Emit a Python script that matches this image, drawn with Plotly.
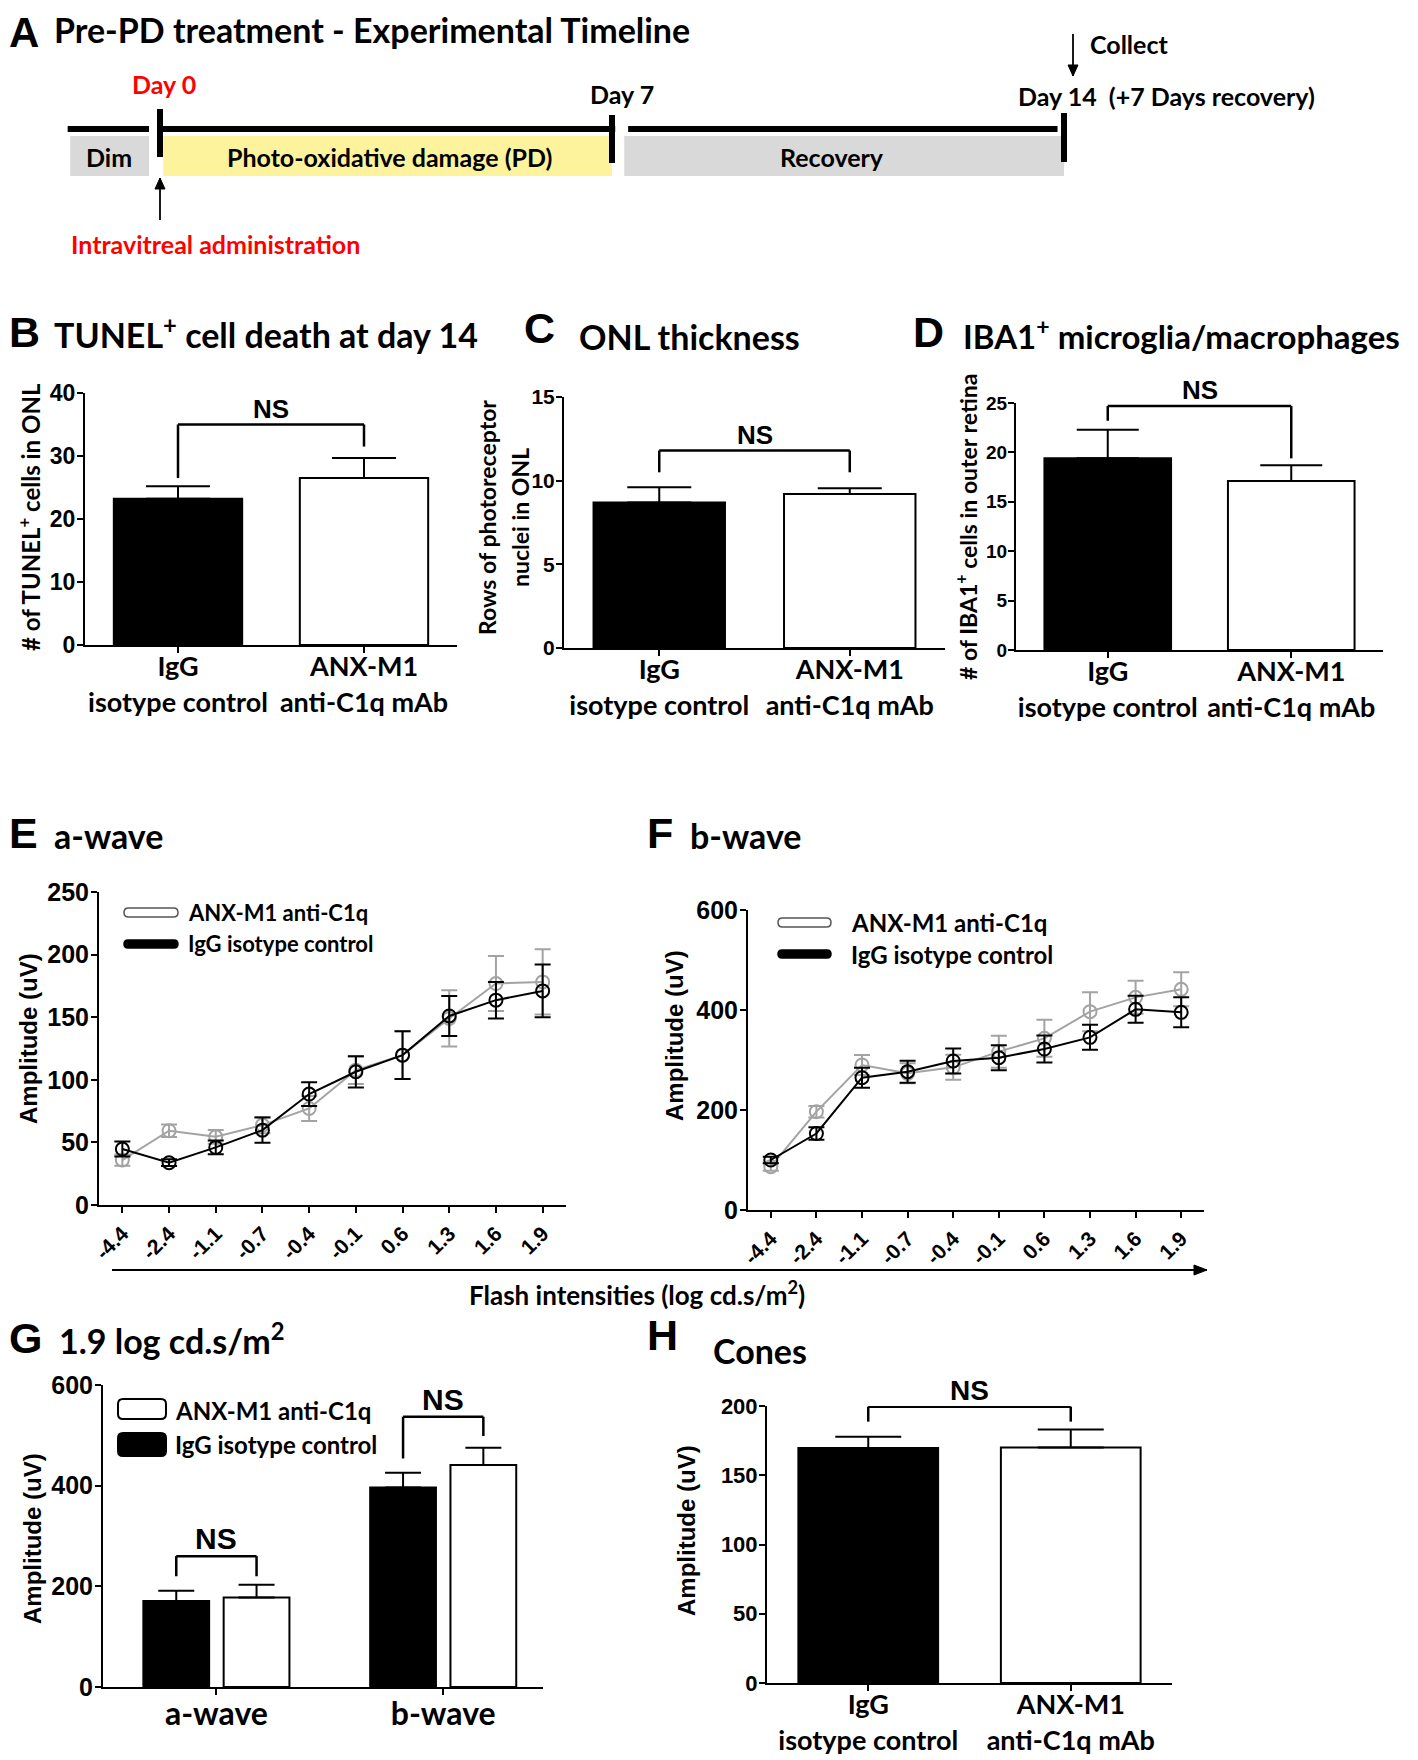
import plotly.graph_objects as go

W, H = 1418, 1760
OFF = 8  # page body margin that shifts the whole figure; positions below are page pixels
ARIAL = "Liberation Sans, Arial, Helvetica, sans-serif"
CAL = "Lato, Carlito, Calibri, sans-serif"
GRAY = "#a3a3a3"
YELLOW = "#fdf39c"
LIGHT = "#d9d9d9"

# ---------------- data ----------------
groups = ["IgG<br>isotype control", "ANX-M1<br>anti-C1q mAb"]

tunel_mean = [23.2, 26.5]
tunel_sem = [2.0, 3.2]
tunel_ns = [26.5, 35.0, 31.5]      # left leg, bracket level, right leg

onl_mean = [8.7, 9.2]
onl_sem = [0.9, 0.35]
onl_ns = [10.5, 11.8, 10.5]

iba1_mean = [19.4, 17.1]
iba1_sem = [2.9, 1.6]
iba1_ns = [23.2, 24.7, 19.4]

intensities = ["-4.4", "-2.4", "-1.1", "-0.7", "-0.4", "-0.1", "0.6", "1.3", "1.6", "1.9"]
awave_igg = [44.7, 33.8, 46.0, 59.8, 88.6, 106.4, 119.7, 151.0, 163.6, 171.0]
awave_igg_sem = [6.0, 2.7, 5.5, 10.0, 9.5, 12.5, 19.0, 16.0, 14.6, 21.0]
awave_anx = [35.9, 59.3, 54.5, 63.8, 77.1, 107.7, 119.7, 149.0, 176.9, 178.2]
awave_anx_sem = [4.5, 5.0, 5.5, 6.5, 10.0, 11.0, 19.0, 22.5, 22.0, 26.0]

bwave_igg = [100.0, 153.0, 264.7, 276.7, 298.0, 304.7, 322.0, 345.3, 401.3, 395.3]
bwave_igg_sem = [6.7, 12.7, 20.0, 22.0, 25.0, 25.0, 27.0, 25.0, 27.0, 30.0]
bwave_anx = [86.7, 196.7, 290.0, 273.3, 285.3, 316.7, 343.3, 396.7, 425.3, 441.3]
bwave_anx_sem = [8.0, 11.5, 20.0, 20.0, 25.0, 32.0, 37.0, 39.0, 33.0, 34.0]

waves = ["a-wave", "b-wave"]
peak_igg = [171.0, 396.5]
peak_igg_sem = [20.0, 29.0]
peak_anx = [178.0, 441.0]
peak_anx_sem = [25.0, 34.5]
peak_ns_a = [220.0, 260.0, 220.0]
peak_ns_b = [454.0, 537.0, 498.6]

cones_mean = [169.6, 170.1]
cones_sem = [8.2, 13.0]
cones_ns = [188.7, 199.5, 188.7]

# timeline (days)
phase_names = ["Dim", "Photo-oxidative damage (PD)", "Recovery"]
phase_start = [-1.39, 0.05, 7.19]
phase_end = [-0.17, 7.0, 14.0]
phase_colors = [LIGHT, YELLOW, LIGHT]
line_start = [-1.43, 0.0, 7.25]
line_end = [-0.17, 7.05, 13.9]
milestones = [0, 7, 14]

# ---------------- helpers ----------------
def X(p):
    return (p - OFF) / W


def Y(p):
    return 1 - (p - OFF) / H


annotations = []
shapes = []


def text(x, y, s, size, family=CAL, color="black", xanchor="center", yanchor="middle", angle=0):
    annotations.append(dict(x=X(x), y=Y(y), xref="paper", yref="paper", text=s, showarrow=False,
                            font=dict(family=family, size=size, color=color, weight="bold"),
                            xanchor=xanchor, yanchor=yanchor, textangle=angle, borderpad=0))


def rrect(x0, y0, x1, y1, r, fill, line_color, lw):
    p = (f"M {X(x0+r):.6f},{Y(y0):.6f} L {X(x1-r):.6f},{Y(y0):.6f} "
         f"Q {X(x1):.6f},{Y(y0):.6f} {X(x1):.6f},{Y(y0+r):.6f} L {X(x1):.6f},{Y(y1-r):.6f} "
         f"Q {X(x1):.6f},{Y(y1):.6f} {X(x1-r):.6f},{Y(y1):.6f} L {X(x0+r):.6f},{Y(y1):.6f} "
         f"Q {X(x0):.6f},{Y(y1):.6f} {X(x0):.6f},{Y(y1-r):.6f} L {X(x0):.6f},{Y(y0+r):.6f} "
         f"Q {X(x0):.6f},{Y(y0):.6f} {X(x0+r):.6f},{Y(y0):.6f} Z")
    shapes.append(dict(type="path", path=p, xref="paper", yref="paper", fillcolor=fill,
                       line=dict(color=line_color, width=lw)))


def arrow(x0, y0, x1, y1, head=11, half=5):
    """straight arrow in page pixels, head at (x1, y1); horizontal or vertical only"""
    shapes.append(dict(type="line", xref="paper", yref="paper", x0=X(x0), y0=Y(y0), x1=X(x1), y1=Y(y1),
                       line=dict(color="black", width=1.8)))
    if x0 == x1:
        d = 1 if y1 > y0 else -1
        pts = [(x1, y1), (x1 - half, y1 - d * head), (x1 + half, y1 - d * head)]
    else:
        d = 1 if x1 > x0 else -1
        pts = [(x1, y1), (x1 - d * head, y1 - half), (x1 - d * head, y1 + half)]
    p = "M " + " L ".join(f"{X(a):.6f},{Y(b):.6f}" for a, b in pts) + " Z"
    shapes.append(dict(type="path", path=p, xref="paper", yref="paper", fillcolor="black",
                       line=dict(color="black", width=1)))


def bracket(n, xl, xr, legs, size, lw=2.5):
    xr_ = "x" if n == 1 else f"x{n}"
    yr_ = "y" if n == 1 else f"y{n}"
    left, level, right = legs
    for (a, b, c, d) in [(xl, left, xl, level), (xl, level, xr, level), (xr, level, xr, right)]:
        shapes.append(dict(type="line", xref=xr_, yref=yr_, x0=a, y0=b, x1=c, y1=d,
                           line=dict(color="black", width=lw)))
    annotations.append(dict(x=(xl + xr) / 2, y=level, xref=xr_, yref=yr_, text="NS", showarrow=False,
                            yanchor="bottom", yshift=0, borderpad=0,
                            font=dict(family=ARIAL, size=size, color="black", weight="bold")))


layout_axes = {}


def axes(n, xdom, ydom, yrange, dtick, ytick_size, xtickfont, xrange=None, tickangle=None, standoff=0):
    xk = "xaxis" if n == 1 else f"xaxis{n}"
    yk = "yaxis" if n == 1 else f"yaxis{n}"
    xa = "x" if n == 1 else f"x{n}"
    ya = "y" if n == 1 else f"y{n}"
    common = dict(showline=True, linecolor="black", linewidth=2, ticks="outside", ticklen=6,
                  tickwidth=2, tickcolor="black", showgrid=False, zeroline=False, fixedrange=True,
                  automargin=False)
    layout_axes[xk] = dict(domain=[X(xdom[0]), X(xdom[1])], anchor=ya, type="category",
                           tickfont=xtickfont, ticklabelstandoff=standoff, **common)
    if xrange is not None:
        layout_axes[xk]["range"] = xrange
    if tickangle is not None:
        layout_axes[xk]["tickangle"] = tickangle
    layout_axes[yk] = dict(domain=[Y(ydom[0]), Y(ydom[1])], anchor=xa, range=yrange, dtick=dtick,
                           tick0=0, tickfont=dict(family=ARIAL, size=ytick_size, color="black", weight="bold"),
                           ticklabelstandoff=-3, **common)
    return xa, ya


fig = go.Figure()

# ---------------- Panel A: timeline ----------------
px0, px_per_day = 160.0, 64.57
layout_axes["xaxis"] = dict(domain=[0, 1],
                            range=[-(px0 - OFF) / px_per_day, (W - (px0 - OFF)) / px_per_day],
                            visible=False, fixedrange=True, anchor="y", automargin=False)
layout_axes["yaxis"] = dict(domain=[Y(260), 1], range=[260, OFF], visible=False, fixedrange=True,
                            anchor="x", automargin=False)
fig.add_trace(go.Scatter(x=[0], y=[129], xaxis="x", yaxis="y", mode="markers",
                         marker=dict(size=1, opacity=0), showlegend=False))
for s, e, c in zip(phase_start, phase_end, phase_colors):
    shapes.append(dict(type="rect", xref="x", yref="y", x0=s, x1=e, y0=136, y1=176,
                       fillcolor=c, line=dict(width=0), layer="below"))
for s, e in zip(line_start, line_end):
    shapes.append(dict(type="line", xref="x", yref="y", x0=s, x1=e, y0=129, y1=129,
                       line=dict(color="black", width=6)))
for d, (t, b) in zip(milestones, [(109, 157), (115, 163), (113, 162)]):
    shapes.append(dict(type="line", xref="x", yref="y", x0=d, x1=d, y0=t, y1=b,
                       line=dict(color="black", width=6)))

LET = 43
TIT = 34
text(OFF, 32, "A", 42, family=ARIAL, xanchor="left")
text(53, 29, "Pre-PD treatment - Experimental Timeline", TIT, xanchor="left")
text(109, 157, "Dim", 25)
text(389, 157, "Photo-oxidative damage (PD)", 25)
text(832, 157, "Recovery", 25)
text(164, 84, "Day 0", 25, color="#ff0000")
text(622, 94, "Day 7", 25)
text(1017, 96, "Day 14&nbsp;&nbsp;(+7 Days recovery)", 25, xanchor="left")
text(1089, 44, "Collect", 25, xanchor="left")
text(70, 244, "Intravitreal administration", 25, color="#ff0000", xanchor="left")
arrow(1073, 34, 1073, 76)
arrow(160, 220, 160, 178)

# ---------------- bar panels B, C, D, H ----------------
cat_font = dict(family=CAL, size=27, color="black", weight="bold")


def bar_panel(n, xdom, ydom, yrange, dtick, ytick_size, means, sems, capw, ns, ns_size):
    xa, ya = axes(n, xdom, ydom, yrange, dtick, ytick_size, cat_font, xrange=[-0.5, 1.5], standoff=-9)
    fig.add_trace(go.Bar(x=groups, y=means, xaxis=xa, yaxis=ya, width=0.69,
                         marker=dict(color=["black", "white"], line=dict(color="black", width=2)),
                         error_y=dict(type="data", array=sems, arrayminus=[0] * len(sems), symmetric=False,
                                      color="black", thickness=2, width=capw),
                         showlegend=False))
    bracket(n, 0, 1, ns, ns_size)


bar_panel(2, (85, 457), (645, 393), [0, 40], 10, 23, tunel_mean, tunel_sem, 32, tunel_ns, 26)
bar_panel(3, (564, 945), (648, 397), [0, 15], 5, 21, onl_mean, onl_sem, 32, onl_ns, 26)
bar_panel(4, (1016, 1383), (650, 403), [0, 25], 5, 19, iba1_mean, iba1_sem, 31, iba1_ns, 26)
bar_panel(8, (767, 1172), (1683, 1406), [0, 200], 50, 22, cones_mean, cones_sem, 33, cones_ns, 28)

text(OFF, 332, "B", LET, family=ARIAL, xanchor="left")
text(53, 333, "TUNEL<sup>+</sup> cell death at day 14", TIT, xanchor="left")
text(29, 517, "# of TUNEL<sup>+</sup> cells in ONL", 24, angle=-90)

text(523, 328, "C", LET, family=ARIAL, xanchor="left")
text(578, 336, "ONL thickness", TIT, xanchor="left")
text(487, 517, "Rows of photoreceptor", 23, angle=-90)
text(520, 518, "nuclei in ONL", 23, angle=-90)

text(912, 332, "D", LET, family=ARIAL, xanchor="left")
text(962, 334, "IBA1<sup>+</sup> microglia/macrophages", 33, xanchor="left")
text(966, 527, "# of IBA1<sup>+</sup> cells in outer retina", 23, angle=-90)

text(646, 1335, "H", LET, family=ARIAL, xanchor="left")
text(712, 1350, "Cones", TIT, xanchor="left")
text(686, 1531, "Amplitude (uV)", 24, family=ARIAL, angle=-90)

# ---------------- line panels E, F ----------------
int_font = dict(family=ARIAL, size=21, color="black", weight="bold")


def line_panel(n, xdom, ydom, yrange, dtick, igg, igg_sem, anx, anx_sem):
    xa, ya = axes(n, xdom, ydom, yrange, dtick, 25, int_font, xrange=[-0.5, 9.5], tickangle=-45)
    for vals, errs, col in [(anx, anx_sem, GRAY), (igg, igg_sem, "black")]:
        fig.add_trace(go.Scatter(x=intensities, y=vals, xaxis=xa, yaxis=ya, mode="lines+markers",
                                 line=dict(color=col, width=2),
                                 marker=dict(symbol="circle-open", size=13, color=col, line=dict(width=2, color=col)),
                                 error_y=dict(type="data", array=errs, color=col, thickness=2, width=8),
                                 showlegend=False))


line_panel(5, (99, 566), (1205, 892), [0, 250], 50, awave_igg, awave_igg_sem, awave_anx, awave_anx_sem)
line_panel(6, (748, 1204), (1210, 910), [0, 600], 200, bwave_igg, bwave_igg_sem, bwave_anx, bwave_anx_sem)

text(OFF, 833, "E", LET, family=ARIAL, xanchor="left")
text(53, 835, "a-wave", TIT, xanchor="left")
text(28, 1039, "Amplitude (uV)", 24, family=ARIAL, angle=-90)
rrect(124, 908, 178, 917, 4.5, "white", "#555555", 1.5)
rrect(124, 940, 178, 948, 4, "black", "black", 1.5)
text(187, 912, "ANX-M1 anti-C1q", 22, xanchor="left")
text(187, 943, "IgG isotype control", 22, xanchor="left")

text(646, 833, "F", LET, family=ARIAL, xanchor="left")
text(689, 835, "b-wave", TIT, xanchor="left")
text(674, 1036, "Amplitude (uV)", 24, family=ARIAL, angle=-90)
rrect(778, 918, 831, 927, 4.5, "white", "#555555", 1.5)
rrect(778, 950, 831, 958, 4, "black", "black", 1.5)
text(850, 922, "ANX-M1 anti-C1q", 24, xanchor="left")
text(850, 954, "IgG isotype control", 24, xanchor="left")

arrow(112, 1270, 1207, 1270, head=13, half=5)
text(637, 1293, "Flash intensities (log cd.s/m<sup>2</sup>)", 26)

# ---------------- Panel G ----------------
g_width = 0.29
g_offsets = [-0.322, 0.032]
xa, ya = axes(7, (103, 543), (1687, 1385), [0, 600], 200, 25,
              dict(family=CAL, size=32, color="black", weight="bold"), xrange=[-0.5, 1.44], standoff=-8)
for vals, errs, col, off in [(peak_igg, peak_igg_sem, "black", g_offsets[0]),
                             (peak_anx, peak_anx_sem, "white", g_offsets[1])]:
    fig.add_trace(go.Bar(x=waves, y=vals, xaxis=xa, yaxis=ya, width=g_width, offset=off,
                         marker=dict(color=col, line=dict(color="black", width=2)),
                         error_y=dict(type="data", array=errs, arrayminus=[0, 0], symmetric=False,
                                      color="black", thickness=2, width=18),
                         showlegend=False))
c_igg = g_offsets[0] + g_width / 2
c_anx = g_offsets[1] + g_width / 2
bracket(7, 0 + c_igg, 0 + c_anx, peak_ns_a, 30)
bracket(7, 1 + c_igg, 1 + c_anx, peak_ns_b, 30)

text(OFF, 1338, "G", LET, family=ARIAL, xanchor="left")
text(58, 1339, "1.9 log cd.s/m<sup>2</sup>", TIT, xanchor="left")
text(32, 1539, "Amplitude (uV)", 24, family=ARIAL, angle=-90)
rrect(118, 1399, 166, 1419, 5, "white", "black", 2)
rrect(118, 1433, 166, 1456, 5, "black", "black", 2)
text(174, 1410, "ANX-M1 anti-C1q", 24, xanchor="left")
text(174, 1444, "IgG isotype control", 24, xanchor="left")

fig.update_layout(
    width=W, height=H, margin=dict(l=0, r=0, t=0, b=0, pad=0, autoexpand=False),
    paper_bgcolor="white", plot_bgcolor="white",
    font=dict(family=CAL, color="black"),
    showlegend=False, hovermode=False,
    annotations=annotations, shapes=shapes,
    **layout_axes,
)

fig.write_html("out.html")
